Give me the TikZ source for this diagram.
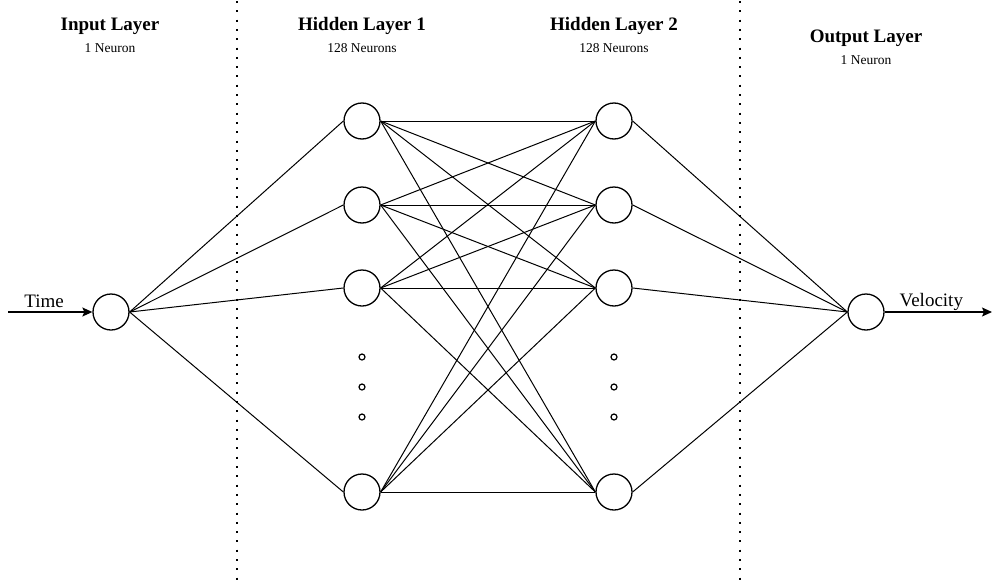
\documentclass[tikz,border=0pt]{standalone}
\usepackage{fontspec}
\setmainfont{Liberation Serif}
\usetikzlibrary{%
  positioning
 ,arrows.meta
}
\tikzstyle{net}=[x=1pt,y=-1pt,line width=1pt,>={Stealth[length=10pt,width=9pt,inset=2pt]}]
\tikzstyle{neuron}=[circle,draw=black,line width=1.3pt,fill=white,minimum size=36pt,inner sep=0pt]
\tikzstyle{dot}=[circle,draw=black,line width=1.2pt,fill=white,minimum size=6pt,inner sep=0pt]
\tikzstyle{title}=[font=\fontsize{19}{22}\selectfont\bfseries,inner sep=0pt]
\tikzstyle{sub}=[font=\fontsize{13.5}{16}\selectfont,inner sep=0pt]
\tikzstyle{io}=[font=\fontsize{19}{22}\selectfont,inner sep=0pt]
\tikzstyle{sep}=[line width=2pt,dash pattern=on 2pt off 7.3pt]

\begin{document}
\begin{tikzpicture}[net]
      \useasboundingbox (0,0) rectangle (996,581);
      % separators
      \draw[sep] (237,1) -- (237,581);
      \draw[sep] (740,1) -- (740,581);
      % headers
      \node[title] (t_in)  at (110,26) {Input Layer};
      \node[sub]   (n_in)  at (110,48) {1 Neuron};
      \node[title] (t_h1)  at (362,26) {Hidden Layer 1};
      \node[sub]   (n_h1)  at (362,48) {128 Neurons};
      \node[title] (t_h2)  at (614,26) {Hidden Layer 2};
      \node[sub]   (n_h2)  at (614,48) {128 Neurons};
      \node[title] (t_out) at (866,38) {Output Layer};
      \node[sub]   (n_out) at (866,60) {1 Neuron};
      % neurons
      \node[neuron] (x_0) at (111,312) {};
      \node[neuron] (y_0) at (866,312) {};
      \foreach \l/\xx in {a/362,b/614}{
        \foreach \i/\yy in {1/121,2/205,3/288,4/492}
          \node[neuron] (\l_\i) at (\xx,\yy) {};
        \foreach \j/\yy in {1/357,2/387,3/417}
          \node[dot] (\l_d\j) at (\xx,\yy) {};
      }
      % weights
      \foreach \i in {1,...,4}{
        \draw (x_0.east) -- (a_\i.west);
        \draw (b_\i.east) -- (y_0.west);
        \foreach \j in {1,...,4}
          \draw (a_\i.east) -- (b_\j.west);
      }
      % input and output
      \coordinate (c_in)  at (8,312);
      \coordinate (c_out) at (992,312);
      \path[->,line width=1.2pt]
        (c_in) edge node[io,above=4pt,xshift=-6pt] {Time} (x_0)
        (y_0) edge node[io,above=1pt,xshift=-7pt] {Velocity} (c_out);
    \end{tikzpicture}
\end{document}
